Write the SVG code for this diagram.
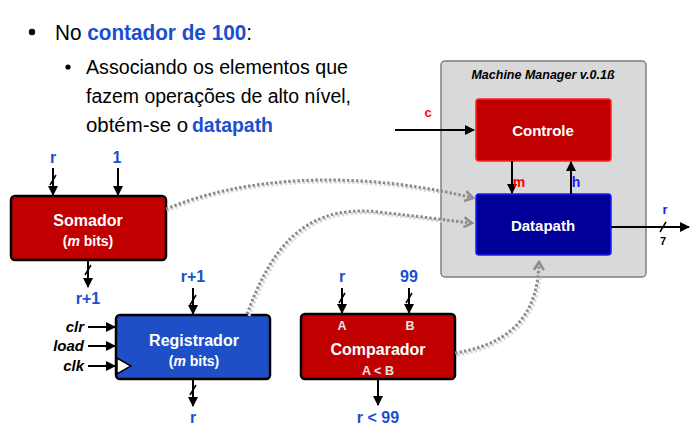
<svg xmlns="http://www.w3.org/2000/svg" width="698" height="432" viewBox="0 0 698 432">
<defs>
<marker id="ah" viewBox="0 0 10 10" refX="9" refY="5" markerWidth="10" markerHeight="10" markerUnits="userSpaceOnUse" orient="auto">
<path d="M0,0 L10,5 L0,10 z" fill="#000"/>
</marker>
<marker id="dah" viewBox="0 0 12 12" refX="10" refY="6" markerWidth="12" markerHeight="12" markerUnits="userSpaceOnUse" orient="auto">
<path d="M2,1 L10,6 L2,11" fill="none" stroke="#8c8c8c" stroke-width="2.5"/>
</marker>
</defs>
<style>
.t{font-family:"Liberation Sans",Arial,sans-serif;}
.lbl{font-family:"Liberation Sans",Arial,sans-serif;font-weight:bold;font-size:16px;fill:#1a4fcf;text-anchor:middle;}
.nt{font-family:"Liberation Sans",Arial,sans-serif;font-weight:bold;fill:#fff;text-anchor:middle;}
.pin{font-family:"Liberation Sans",Arial,sans-serif;font-weight:bold;fill:#e6e6e6;font-size:12.5px;text-anchor:middle;}
.ctl{font-family:"Liberation Sans",Arial,sans-serif;font-weight:bold;font-style:italic;font-size:15px;fill:#000;text-anchor:end;}
.w{stroke:#000;stroke-width:2;fill:none;}
.sl{stroke:#000;stroke-width:1.5;fill:none;}
.dot{stroke:#8c8c8c;stroke-width:3;stroke-dasharray:2.5 2;fill:none;}
.dsh{stroke:#d8d8d8;stroke-width:3;stroke-dasharray:2.5 2;fill:none;}
</style>
<rect width="698" height="432" fill="#fff"/>
<g id="text">
<circle cx="32" cy="32" r="3.2" fill="#000"/>
<text class="t" x="55" y="40" font-size="22" textLength="197" lengthAdjust="spacingAndGlyphs">No <tspan font-weight="bold" fill="#1a4fcf">contador de 100</tspan>:</text>
<circle cx="68" cy="67" r="2.6" fill="#000"/>
<text class="t" x="86" y="74" font-size="20" textLength="262" lengthAdjust="spacingAndGlyphs">Associando os elementos que</text>
<text class="t" x="86" y="103" font-size="20" textLength="265" lengthAdjust="spacingAndGlyphs">fazem operações de alto nível,</text>
<text class="t" x="86" y="132" font-size="20" textLength="102" lengthAdjust="spacingAndGlyphs">obtém-se o</text>
<text class="t" x="192" y="132" font-size="20" font-weight="bold" fill="#1a4fcf" textLength="81" lengthAdjust="spacingAndGlyphs">datapath</text>
</g>
<g id="machine-manager">
<rect x="441" y="61" width="205" height="216" rx="4" fill="#d9d9d9" stroke="#7f7f7f" stroke-width="1.5"/>
<text class="t" x="543" y="79" font-size="12.5" font-weight="bold" font-style="italic" text-anchor="middle">Machine Manager v.0.1ß</text>
</g>
<g id="controle">
<rect x="476" y="99" width="135" height="62" rx="3" fill="#c00000" stroke="#ff2020" stroke-width="1.5"/>
<text class="nt" x="543" y="136" font-size="15">Controle</text>
</g>
<g id="datapath">
<rect x="476" y="194" width="135" height="61" rx="3" fill="#000099" stroke="#1a1aff" stroke-width="1.5"/>
<text class="nt" x="543" y="231" font-size="15">Datapath</text>
</g>
<g id="somador">
<rect x="11" y="196" width="155" height="64" rx="4" fill="#c00000" stroke="#000" stroke-width="2.5"/>
<text class="nt" x="88" y="226" font-size="16">Somador</text>
<text class="nt" x="88" y="246" font-size="14">(<tspan font-style="italic">m</tspan> bits)</text>
</g>
<g id="registrador">
<rect x="116" y="315" width="154" height="64" rx="4" fill="#1f4fc6" stroke="#000" stroke-width="2.5"/>
<path d="M117,358 L131,366 L117,374 z" fill="#fff" stroke="#000" stroke-width="1.5"/>
<text class="nt" x="194" y="346" font-size="16">Registrador</text>
<text class="nt" x="194" y="366" font-size="14">(<tspan font-style="italic">m</tspan> bits)</text>
</g>
<g id="comparador">
<rect x="301" y="314" width="154" height="65" rx="4" fill="#c00000" stroke="#000" stroke-width="2.5"/>
<text class="pin" x="342" y="330">A</text>
<text class="pin" x="410" y="330">B</text>
<text class="nt" x="378" y="355" font-size="16">Comparador</text>
<text class="pin" x="378" y="375">A &lt; B</text>
</g>
<g id="connectors">
<path class="dsh" d="M167,211 C240,180 350,170 474,200"/>
<path class="dsh" d="M249,316 C270,260 300,205 380,214 C420,218 445,222 473,225"/>
<path class="dsh" d="M457,355 C520,345 540,310 541,264"/>
<path class="dot" d="M166,209 C240,178 350,168 473,198" marker-end="url(#dah)"/>
<path class="dot" d="M247,314 C268,258 298,203 378,212 C418,216 443,220 472,223" marker-end="url(#dah)"/>
<path class="dot" d="M455,353 C518,343 538,308 539,262" marker-end="url(#dah)"/>
<line class="w" x1="395" y1="130" x2="474" y2="130" marker-end="url(#ah)"/>
<line class="w" x1="512" y1="161" x2="512" y2="193" marker-end="url(#ah)"/>
<line class="w" x1="571" y1="194" x2="571" y2="162" marker-end="url(#ah)"/>
<line class="w" x1="611" y1="227" x2="689" y2="227" marker-end="url(#ah)"/>
<line class="sl" x1="660" y1="232" x2="666" y2="222"/>
<line class="w" x1="53" y1="168" x2="53" y2="195" marker-end="url(#ah)"/>
<line class="sl" x1="50" y1="185" x2="56" y2="175"/>
<line class="w" x1="118" y1="168" x2="118" y2="195" marker-end="url(#ah)"/>
<line class="w" x1="88" y1="260" x2="88" y2="287" marker-end="url(#ah)"/>
<line class="sl" x1="85" y1="275" x2="91" y2="265"/>
<line class="w" x1="193" y1="288" x2="193" y2="314" marker-end="url(#ah)"/>
<line class="sl" x1="190" y1="305" x2="196" y2="295"/>
<line class="w" x1="193" y1="379" x2="193" y2="406" marker-end="url(#ah)"/>
<line class="sl" x1="190" y1="395" x2="196" y2="385"/>
<line class="w" x1="88" y1="327" x2="115" y2="327" marker-end="url(#ah)"/>
<line class="w" x1="88" y1="346" x2="115" y2="346" marker-end="url(#ah)"/>
<line class="w" x1="88" y1="366" x2="115" y2="366" marker-end="url(#ah)"/>
<line class="w" x1="342" y1="288" x2="342" y2="313" marker-end="url(#ah)"/>
<line class="sl" x1="339" y1="303" x2="345" y2="293"/>
<line class="w" x1="409" y1="288" x2="409" y2="313" marker-end="url(#ah)"/>
<line class="sl" x1="406" y1="303" x2="412" y2="293"/>
<line class="w" x1="378" y1="379" x2="378" y2="405" marker-end="url(#ah)"/>
</g>
<g id="labels">
<text class="t" x="428" y="117" font-size="13" font-weight="bold" fill="#ff0000" text-anchor="middle">c</text>
<text class="t" x="519" y="187" font-size="14" font-weight="bold" fill="#ff0000" text-anchor="middle">m</text>
<text class="t" x="576" y="187" font-size="14" font-weight="bold" fill="#1a1aff" text-anchor="middle">h</text>
<text class="t" x="665" y="214" font-size="13" font-weight="bold" fill="#1a1aff" text-anchor="middle">r</text>
<text class="t" x="663" y="245" font-size="11" font-weight="bold" fill="#000" text-anchor="middle">7</text>
<text class="lbl" x="53" y="163">r</text>
<text class="lbl" x="117" y="163">1</text>
<text class="lbl" x="88" y="304">r+1</text>
<text class="lbl" x="193" y="282">r+1</text>
<text class="lbl" x="193" y="423">r</text>
<text class="lbl" x="342" y="282">r</text>
<text class="lbl" x="409" y="282">99</text>
<text class="lbl" x="378" y="423">r &lt; 99</text>
<text class="ctl" x="84" y="332">clr</text>
<text class="ctl" x="84" y="351">load</text>
<text class="ctl" x="84" y="371">clk</text>
</g>
</svg>
